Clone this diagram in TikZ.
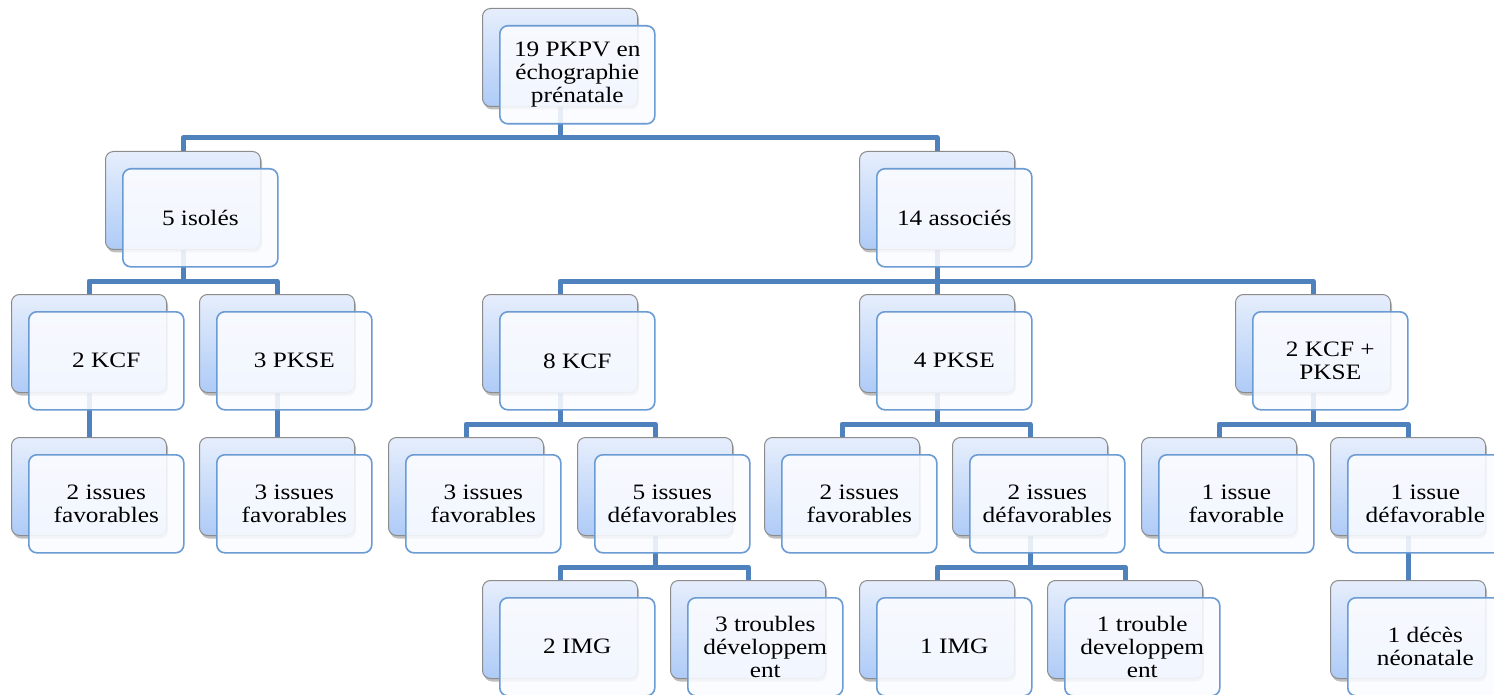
\documentclass[tikz,border=0pt]{standalone}
\usepackage{fontspec}
\setmainfont{Liberation Serif}[FakeStretch=1.15]
\usetikzlibrary{shadows,backgrounds}
\definecolor{connc}{HTML}{4F81BD}
\definecolor{frontc}{HTML}{6A9BD2}
\definecolor{backtop}{HTML}{E6EEFC}
\definecolor{backbot}{HTML}{AECBF7}
\definecolor{backdraw}{HTML}{8C8C8C}
\definecolor{frontfill}{HTML}{FBFCFF}
\tikzset{
  backbox/.style={anchor=north west, minimum width=155pt, minimum height=98pt,
    rounded corners=8pt, draw=backdraw, line width=1pt,
    top color=backtop, bottom color=backbot,
    drop shadow={shadow xshift=1.5pt, shadow yshift=-3pt, opacity=0.25, fill=black}},
  frontbox/.style={anchor=north west, minimum width=155pt, minimum height=98pt,
    rounded corners=8pt, draw=frontc, line width=1.6pt,
    fill=frontfill, fill opacity=0.88, text opacity=1,
    align=center, inner sep=2pt,
    font=\fontsize{22}{23}\selectfont},
  conn/.style={draw=connc, line width=5pt, line join=round}
}
\newcommand\twobox[4]{%
  \node[backbox] (#1b) at (#2,#3) {};
  \node[frontbox] (#1) at (#2+17,#3+17) {#4};
}
\newcommand\link[2]{%
  \draw[conn] (#1b.south) |- ([yshift=13pt]#2b.north) -- (#2b.north);
}
\begin{document}
\begin{tikzpicture}[x=1pt,y=-1pt]
\useasboundingbox (0,0) rectangle (1494,695);
\clip (0,0) rectangle (1494,695);
\twobox{n0}{482}{8}{19 PKPV en\\échographie\\prénatale}
\twobox{n1}{105}{151}{5 isolés}
\twobox{n2}{859}{151}{14 associés}
\twobox{n11}{11}{294}{2 KCF}
\twobox{n12}{199}{294}{3 PKSE}
\twobox{n21}{482}{294}{8 KCF}
\twobox{n22}{859}{294}{4 PKSE}
\twobox{n23}{1235}{294}{2 KCF +\\PKSE}
\twobox{n111}{11}{437}{2 issues\\favorables}
\twobox{n121}{199}{437}{3 issues\\favorables}
\twobox{n211}{388}{437}{3 issues\\favorables}
\twobox{n212}{577}{437}{5 issues\\défavorables}
\twobox{n221}{764}{437}{2 issues\\favorables}
\twobox{n222}{952}{437}{2 issues\\défavorables}
\twobox{n231}{1141}{437}{1 issue\\favorable}
\twobox{n232}{1330}{437}{1 issue\\défavorable}
\twobox{n2121}{482}{580}{2 IMG}
\twobox{n2122}{670}{580}{3 troubles\\développem\\ent}
\twobox{n2221}{859}{580}{1 IMG}
\twobox{n2222}{1047}{580}{1 trouble\\developpem\\ent}
\twobox{n2321}{1330}{580}{1 décès\\néonatale}
\begin{scope}[on background layer]
\fill[white] (0,0) rectangle (1494,695);
\link{n0}{n1}\link{n0}{n2}
\link{n1}{n11}\link{n1}{n12}
\link{n2}{n21}\link{n2}{n22}\link{n2}{n23}
\link{n11}{n111}\link{n12}{n121}
\link{n21}{n211}\link{n21}{n212}
\link{n22}{n221}\link{n22}{n222}
\link{n23}{n231}\link{n23}{n232}
\link{n212}{n2121}\link{n212}{n2122}
\link{n222}{n2221}\link{n222}{n2222}
\link{n232}{n2321}
\end{scope}
\end{tikzpicture}
\end{document}
